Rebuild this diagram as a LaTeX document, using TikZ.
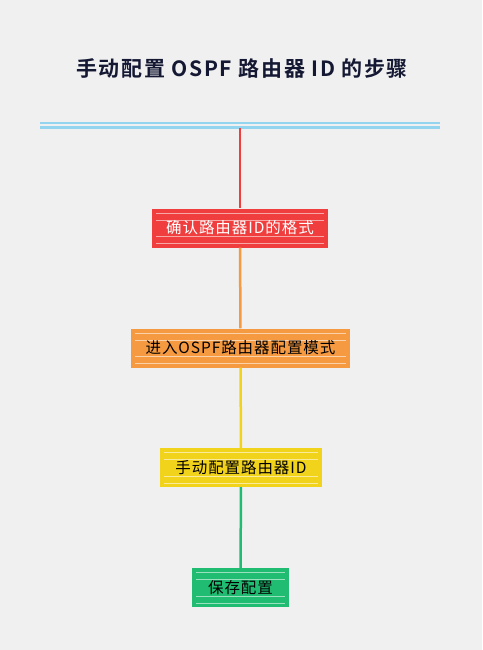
\documentclass[tikz,border=0pt]{standalone}
\usepackage{fontspec}
\setmainfont{Noto Sans CJK SC}
\newfontfamily\titlefont[LetterSpace=8]{Noto Sans CJK SC Bold}
\newfontfamily\boxfont[LetterSpace=6]{Noto Sans CJK SC}
\usetikzlibrary{positioning,calc}
\definecolor{bgcol}{HTML}{F0F0F0}
\definecolor{titlecol}{HTML}{141833}
\definecolor{linecol}{HTML}{93D5EF}
\definecolor{stepred}{HTML}{F03E3E}
\definecolor{steporange}{HTML}{F59A40}
\definecolor{stepyellow}{HTML}{F2D31C}
\definecolor{stepgreen}{HTML}{1FBC72}
\begin{document}
\begin{tikzpicture}[x=1pt,y=-1pt,
	every node/.style = {inner sep=0pt,align=center},
	stepbox/.style = {rectangle,minimum height=39pt,font=\boxfont\fontsize{15.5}{15.5}\selectfont,
	  path picture={
	    \foreach \f in {0.12,0.3,0.72,0.9}
	      \draw[white,opacity=.55,line width=.8pt]
	        ($(path picture bounding box.north west)!\f!(path picture bounding box.south west)+(4,0)$) --
	        ($(path picture bounding box.north east)!\f!(path picture bounding box.south east)+(-4,0)$);}},
	link/.style = {line width=2.5pt}
	]
  \fill[bgcol] (0,0) rectangle (482,650);
  \useasboundingbox (0,0) rectangle (482,650);
  \node [text=titlecol] (title) at (242,68) {\titlefont\fontsize{21}{21}\selectfont 手动配置 OSPF 路由器 ID 的步骤};
  % double line on top
  \draw[linecol,line width=2.5pt] (40,123) -- (440,123);
  \draw[linecol,line width=2.5pt] (40,127.5) -- (440,127.5);
  \coordinate (top) at (240,128);
  % steps
  \node [stepbox, fill=stepred, text=white, minimum width=176pt] (s1) at (240,228) {确认路由器ID的格式};
  \node [stepbox, fill=steporange, minimum width=219pt] (s2) at (240.5,348) {进入OSPF路由器配置模式};
  \node [stepbox, fill=stepyellow, minimum width=162pt] (s3) at (241,467.5) {手动配置路由器ID};
  \node [stepbox, fill=stepgreen, minimum width=97pt] (s4) at (240.5,587.5) {保存配置};
  \draw [link, stepred] (top) -- (s1);
  \draw [link, steporange] (s1) -- (s2);
  \draw [link, stepyellow] (s2) -- (s3);
  \draw [link, stepgreen] (s3) -- (s4);
\end{tikzpicture}
\end{document}
